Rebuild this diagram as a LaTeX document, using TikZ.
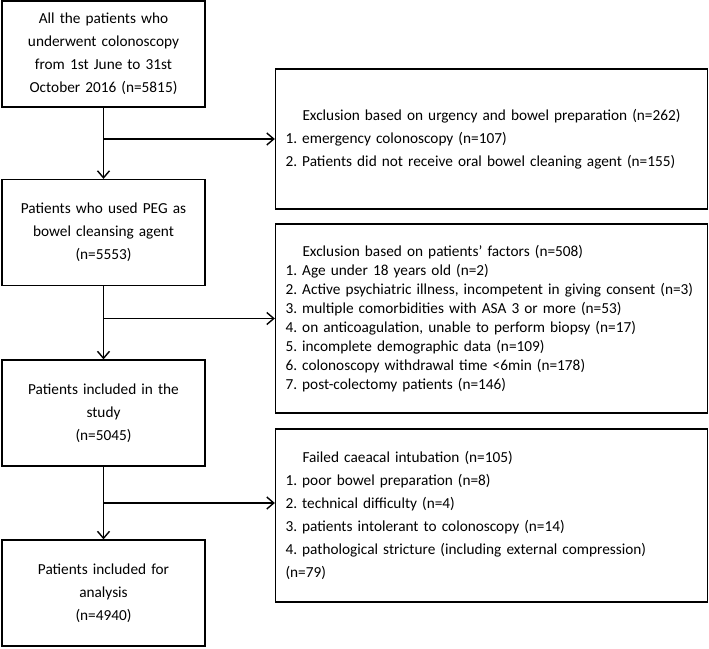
\documentclass[tikz,border=0pt]{standalone}
\usepackage{fontspec}
\setmainfont{Carlito}
\frenchspacing
\usetikzlibrary{arrows.meta,calc}
\begin{document}
\begin{tikzpicture}[x=1pt,y=-1pt,
        box/.style={draw, line width=1.3pt, inner sep=0pt, font=\fontsize{15.3}{23}\selectfont},
        mainbox/.style={box, minimum width=203pt, minimum height=106pt, text width=190pt, align=center},
        exclbox/.style={box, minimum width=432pt, text width=412pt, align=left},
        arr/.style={line width=1.4pt, -{Straight Barb[length=7pt,width=12pt]}}]
        \pgfmathsetmacro\lx{103.5};
        \pgfmathsetmacro\rx{491.5};
        \useasboundingbox (0,0) rectangle (709,648);

        % left column
        \node[mainbox] (l1) at (\lx, 54) {All the patients who\\underwent colonoscopy\\from 1st June to 31st\\October 2016 (n=5815)};
        \node[mainbox] (l2) at (\lx, 232.5) {Patients who used PEG as\\bowel cleansing agent\\(n=5553)};
        \node[mainbox] (l3) at (\lx, 413) {Patients included in the\\study\\(n=5045)};
        \node[mainbox] (l4) at (\lx, 593) {Patients included for\\analysis\\(n=4940)};

        % exclusions
        \node[exclbox, minimum height=140pt] (r1) at (\rx, 139)
            {\hspace*{17pt}Exclusion based on urgency and bowel preparation (n=262)\\
             1. emergency colonoscopy (n=107)\\
             2. Patients did not receive oral bowel cleaning agent (n=155)};
        \node[exclbox, minimum height=189pt, font=\fontsize{15.3}{19}\selectfont] (r2) at (\rx, 318.5)
            {\hspace*{17pt}Exclusion based on patients’ factors (n=508)\\
             1. Age under 18 years old (n=2)\\
             \mbox{2. Active psychiatric illness, incompetent in giving consent (n=3)}\\
             3. multiple comorbidities with ASA 3 or more (n=53)\\
             4. on anticoagulation, unable to perform biopsy (n=17)\\
             5. incomplete demographic data (n=109)\\
             6. colonoscopy withdrawal time <6min (n=178)\\
             7. post-colectomy patients (n=146)};
        \node[exclbox, minimum height=173pt] (r3) at (\rx, 515.5)
            {\hspace*{17pt}Failed caeacal intubation (n=105)\\
             1. poor bowel preparation (n=8)\\
             2. technical difficulty (n=4)\\
             3. patients intolerant to colonoscopy (n=14)\\
             4. pathological stricture (including external compression)\\
             (n=79)};

        \coordinate (b3) at ($(l3.south)!0.5!(l4.north)$);

        \draw[arr] (l1.south) -- (l2.north);
        \draw[arr] (l2.south) -- (l3.north);
        \draw[arr] (l3.south) -- (l4.north);
        \draw[arr] (l1.south |- r1.west) -- (r1.west);
        \draw[arr] (l2.south |- r2.west) -- (r2.west);
        \draw[arr] (b3) -- (b3 -| r3.west);
    \end{tikzpicture}
\end{document}
